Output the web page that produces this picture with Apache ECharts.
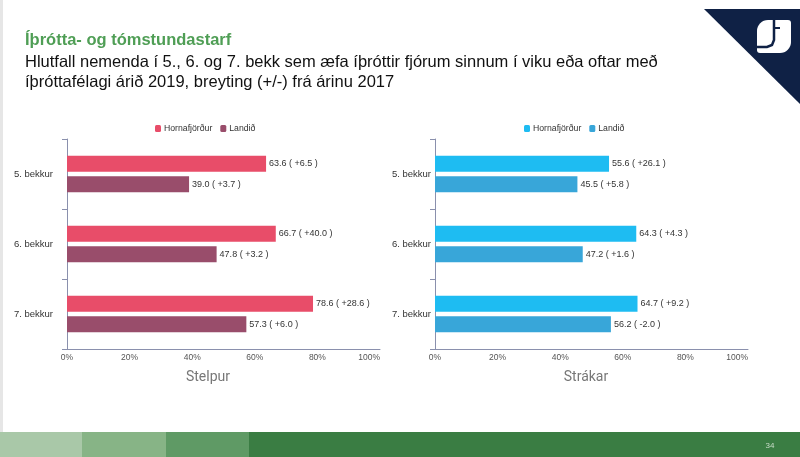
<!DOCTYPE html>
<html>
<head>
<meta charset="utf-8">
<script src="https://cdn.jsdelivr.net/npm/echarts@6/dist/echarts.min.js"></script>
<style>html,body{margin:0;padding:0;background:#fff}#c{width:800px;height:457px}</style>
</head>
<body>
<div id="c"></div>
<script>
var categories = ['5. bekkur', '6. bekkur', '7. bekkur'];
var xTicks = [0, 20, 40, 60, 80, 100];
var girlsHorn = [63.6, 66.7, 78.6];
var girlsHornChange = [6.5, 40.0, 28.6];
var girlsLand = [39.0, 47.8, 57.3];
var girlsLandChange = [3.7, 3.2, 6.0];
var boysHorn = [55.6, 64.3, 64.7];
var boysHornChange = [26.1, 4.3, 9.2];
var boysLand = [45.5, 47.2, 56.2];
var boysLandChange = [5.8, 1.6, -2.0];
var legendNames = ['Hornafjörður', 'Landið'];

var FONT = '"Liberation Sans", Arial, sans-serif';
function fmtChange(v) { return (v >= 0 ? '+' : '') + v.toFixed(1); }
function labelFor(changes) {
  return {
    show: true, position: 'right', distance: 3,
    fontFamily: FONT, fontSize: 9, color: '#333',
    formatter: function (p) { return p.value.toFixed(1) + ' ( ' + fmtChange(changes[p.dataIndex]) + ' )'; }
  };
}
var displayName = { gH: legendNames[0], gL: legendNames[1], bH: legendNames[0], bL: legendNames[1] };

function xAxis(gi) {
  return {
    gridIndex: gi, type: 'value', min: 0, max: 100, interval: 20,
    axisLine: { show: true, lineStyle: { color: '#8a90ad', width: 1 } },
    axisTick: { show: false }, splitLine: { show: false },
    axisLabel: { fontFamily: FONT, fontSize: 8.5, color: '#555', margin: 4, alignMaxLabel: 'right',
      formatter: function (v) { return xTicks.indexOf(v) >= 0 ? v + '%' : ''; } }
  };
}
function yAxis(gi, margin) {
  return {
    gridIndex: gi, type: 'category', data: categories, inverse: true,
    axisLine: { show: true, lineStyle: { color: '#8a90ad', width: 1 } },
    axisTick: { show: true, length: 5, lineStyle: { color: '#8a90ad' } },
    axisLabel: { fontFamily: FONT, fontSize: 9.5, color: '#333', margin: margin }
  };
}
function bar(name, gi, data, color, changes) {
  return {
    name: name, type: 'bar', xAxisIndex: gi, yAxisIndex: gi, data: data,
    barWidth: 16, barGap: '28%', itemStyle: { color: color },
    label: labelFor(changes)
  };
}

var chart = echarts.init(document.getElementById('c'), null, { renderer: 'canvas' });
chart.setOption({
  animation: false,
  backgroundColor: '#fff',
  title: [
    { text: 'Íþrótta- og tómstundastarf', left: 20, top: 27,
      textStyle: { fontFamily: FONT, fontSize: 16.5, fontWeight: 'bold', color: '#4f9e55' } },
    { text: 'Hlutfall nemenda í 5., 6. og 7. bekk sem æfa íþróttir fjórum sinnum í viku eða oftar með\níþróttafélagi árið 2019, breyting (+/-) frá árinu 2017',
      left: 20, top: 47,
      textStyle: { fontFamily: FONT, fontSize: 16.5, fontWeight: 'normal', color: '#111', lineHeight: 20 } },
    { text: 'Stelpur', left: 203, top: 365, textAlign: 'center',
      textStyle: { fontFamily: 'Roboto, sans-serif', fontSize: 14, fontWeight: 'normal', color: '#777' } },
    { text: 'Strákar', left: 581, top: 365, textAlign: 'center',
      textStyle: { fontFamily: 'Roboto, sans-serif', fontSize: 14, fontWeight: 'normal', color: '#777' } }
  ],
  legend: [
    { data: ['gH', 'gL'], left: 150, top: 119, itemWidth: 6, itemHeight: 7, itemGap: 8,
      formatter: function (n) { return displayName[n]; },
      textStyle: { fontFamily: FONT, fontSize: 8.7, color: '#333', padding: [0, 0, 0, -2] } },
    { data: ['bH', 'bL'], left: 519, top: 119, itemWidth: 6, itemHeight: 7, itemGap: 8,
      formatter: function (n) { return displayName[n]; },
      textStyle: { fontFamily: FONT, fontSize: 8.7, color: '#333', padding: [0, 0, 0, -2] } }
  ],
  grid: [
    { left: 67, width: 313, top: 139, height: 210 },
    { left: 435, width: 313, top: 139, height: 210 }
  ],
  xAxis: [xAxis(0), xAxis(1)],
  yAxis: [yAxis(0, 14), yAxis(1, 4)],
  series: [
    bar('gH', 0, girlsHorn, '#e84d69', girlsHornChange),
    bar('gL', 0, girlsLand, '#994d6b', girlsLandChange),
    bar('bH', 1, boysHorn, '#1ebcf2', boysHornChange),
    bar('bL', 1, boysLand, '#38a6d9', boysLandChange)
  ],
  graphic: [
    { type: 'rect', shape: { x: 0, y: 0, width: 3, height: 432 }, style: { fill: '#e6e6e6' } },
    { type: 'polygon', shape: { points: [[704, 9], [800, 9], [800, 104]] }, style: { fill: '#0f2145' } },
    { type: 'rect', shape: { x: 757, y: 20, width: 34, height: 33, r: [11, 3, 11, 3] }, style: { fill: '#ffffff' } },
    { type: 'polyline', shape: { points: [[774, 20], [774, 40], [772, 45], [767, 47], [757, 47]] },
      style: { stroke: '#0f2145', lineWidth: 2.5, fill: null } },
    { type: 'polyline', shape: { points: [[774, 28], [780, 28]] },
      style: { stroke: '#0f2145', lineWidth: 2, fill: null } },
    { type: 'rect', shape: { x: 0, y: 432, width: 82, height: 25 }, style: { fill: '#a9c8a8' } },
    { type: 'rect', shape: { x: 82, y: 432, width: 84, height: 25 }, style: { fill: '#87b486' } },
    { type: 'rect', shape: { x: 166, y: 432, width: 83, height: 25 }, style: { fill: '#5f9a65' } },
    { type: 'rect', shape: { x: 249, y: 432, width: 551, height: 25 }, style: { fill: '#3a7d43' } },
    { type: 'text', style: { text: '34', x: 770, y: 446, fontFamily: FONT, fontSize: 8, fill: '#c8dcc8', align: 'center', verticalAlign: 'middle' } }
  ]
});
</script>
</body>
</html>
